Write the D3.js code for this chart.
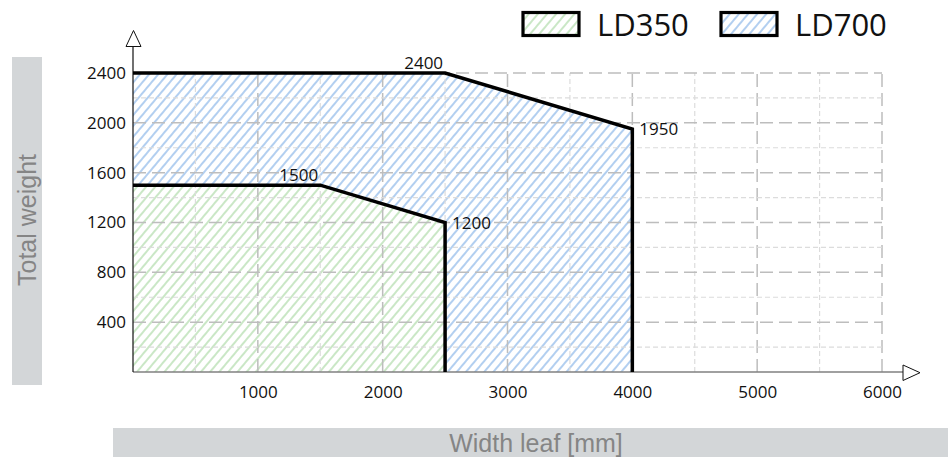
<!DOCTYPE html>
<html>
<head>
<meta charset="utf-8">
<script src="https://cdn.jsdelivr.net/npm/d3@7"></script>
<style>
  html, body { margin: 0; padding: 0; background: #fff; }
  svg { display: block; }
  .tick-label { font-family: "Open Sans", "Noto Sans", sans-serif; font-size: 17px; fill: #111; }
  .title { font-family: "Liberation Sans", Arial, sans-serif; font-size: 25px; fill: #858585; }
  .legend-text { font-family: "Open Sans", "Noto Sans", sans-serif; font-size: 31px; fill: #111; }
</style>
</head>
<body>
<script>
// Load capacity envelopes: leaf width [mm] vs total weight
const seriesNames = ["LD350", "LD700"];
const ld350Width  = [0, 1500, 2500, 2500];
const ld350Weight = [1500, 1500, 1200, 0];
const ld700Width  = [0, 2500, 4000, 4000];
const ld700Weight = [2400, 2400, 1950, 0];
const xTicks = [1000, 2000, 3000, 4000, 5000, 6000];
const yTicks = [400, 800, 1200, 1600, 2000, 2400];
// value callouts on the envelope corners
const ld350Labels = [{ w: 1500, v: 1500, pos: "above" }, { w: 2500, v: 1200, pos: "right" }];
const ld700Labels = [{ w: 2500, v: 2400, pos: "above" }, { w: 4000, v: 1950, pos: "right" }];

const W = 948, H = 457;
const svg = d3.select("body").append("svg").attr("width", W).attr("height", H);

const x = d3.scaleLinear().domain([0, 6000]).range([133, 882]);
const y = d3.scaleLinear().domain([0, 2400]).range([372, 73]);

// hatch patterns
const defs = svg.append("defs");
function hatch(id, color) {
  const s = 7;
  const p = defs.append("pattern")
    .attr("id", id).attr("patternUnits", "userSpaceOnUse")
    .attr("width", s).attr("height", s)
    .attr("patternTransform", "rotate(40)");
  p.append("rect").attr("width", s).attr("height", s).attr("fill", "#fff");
  p.append("line").attr("x1", 1).attr("y1", 0).attr("x2", 1).attr("y2", s)
    .attr("stroke", color).attr("stroke-width", 1.15);
}
hatch("hatch-ld700", "#7aace6");
hatch("hatch-ld350", "#a3d69c");

// axis title bands
svg.append("rect").attr("x", 12).attr("y", 57).attr("width", 30).attr("height", 328).attr("fill", "#d3d6d8");
svg.append("text").attr("class", "title")
  .attr("transform", "translate(36,220) rotate(-90)")
  .attr("text-anchor", "middle").text("Total weight");
svg.append("rect").attr("x", 113).attr("y", 428).attr("width", 835).attr("height", 29).attr("fill", "#d3d6d8");
svg.append("text").attr("class", "title")
  .attr("x", 536).attr("y", 452).attr("text-anchor", "middle").text("Width leaf [mm]");

// filled envelopes
function area(ws, vs) {
  const pts = [[0, 0]].concat(ws.map((w, i) => [w, vs[i]]));
  return d3.line().x(d => x(d[0])).y(d => y(d[1]))(pts) + "Z";
}
svg.append("path").attr("d", area(ld700Width, ld700Weight)).attr("fill", "url(#hatch-ld700)");
svg.append("path").attr("d", area(ld350Width, ld350Weight)).attr("fill", "url(#hatch-ld350)");

// grid
const g = svg.append("g");
d3.range(500, 6001, 500).forEach(v => {
  const major = v % 1000 === 0;
  g.append("line").attr("x1", x(v)).attr("x2", x(v)).attr("y1", y(0)).attr("y2", y(2400))
    .attr("stroke", major ? "#bdbdbd" : "#dcdcdc").attr("stroke-width", major ? 1.5 : 1.2)
    .attr("stroke-dasharray", major ? "13,6" : "5,3");
});
d3.range(200, 2401, 200).forEach(v => {
  const major = v % 400 === 0;
  g.append("line").attr("x1", x(0)).attr("x2", x(6000)).attr("y1", y(v)).attr("y2", y(v))
    .attr("stroke", major ? "#bdbdbd" : "#dcdcdc").attr("stroke-width", major ? 1.5 : 1.2)
    .attr("stroke-dasharray", major ? "13,6" : "5,3");
});

// axes
const fmt = d3.format("d");
const xAxis = d3.axisBottom(x).tickValues(xTicks).tickFormat(fmt).tickSize(0).tickPadding(14);
const xg = svg.append("g").attr("transform", `translate(0,${y(0)})`).call(xAxis);
xg.select(".domain").remove();
xg.selectAll("text").attr("class", "tick-label").attr("font-family", null).attr("font-size", null);

const yAxis = d3.axisLeft(y).tickValues(yTicks).tickFormat(fmt).tickSize(0).tickPadding(7);
const yg = svg.append("g").attr("transform", `translate(${x(0)},0)`).call(yAxis);
yg.select(".domain").remove();
yg.selectAll("text").attr("class", "tick-label").attr("font-family", null).attr("font-size", null);

svg.append("line").attr("x1", x(0)).attr("x2", 903).attr("y1", y(0)).attr("y2", y(0))
  .attr("stroke", "#808080").attr("stroke-width", 1.6);
svg.append("path").attr("d", "M903,365 L903,380.5 L920,372.7 Z")
  .attr("fill", "#fff").attr("stroke", "#111").attr("stroke-width", 1).attr("stroke-linejoin", "round");
svg.append("line").attr("x1", x(0)).attr("x2", x(0)).attr("y1", y(0)).attr("y2", 46)
  .attr("stroke", "#111").attr("stroke-width", 1.2);
svg.append("path").attr("d", "M126,46.5 L141,46.5 L133.5,30.5 Z")
  .attr("fill", "#fff").attr("stroke", "#111").attr("stroke-width", 1).attr("stroke-linejoin", "round");

// envelope outlines
function outline(ws, vs) {
  return d3.line().x(d => x(d[0])).y(d => y(d[1]))(ws.map((w, i) => [w, vs[i]]));
}
[[ld700Width, ld700Weight], [ld350Width, ld350Weight]].forEach(([ws, vs]) => {
  svg.append("path").attr("d", outline(ws, vs)).attr("fill", "none")
    .attr("stroke", "#000").attr("stroke-width", 3.5).attr("stroke-linejoin", "miter");
});

// value labels
ld350Labels.concat(ld700Labels).forEach(d => {
  const t = svg.append("text").attr("class", "tick-label").text(fmt(d.v));
  if (d.pos === "above") {
    t.attr("x", x(d.w) - 2).attr("y", y(d.v) - 4).attr("text-anchor", "end");
  } else {
    t.attr("x", x(d.w) + 7).attr("y", y(d.v) + 6).attr("text-anchor", "start");
  }
});

// legend
const legend = svg.append("g");
seriesNames.forEach((name, i) => {
  const lx = 523 + i * 198;
  legend.append("rect").attr("x", lx).attr("y", 12.5).attr("width", 56).attr("height", 23)
    .attr("fill", i === 0 ? "url(#hatch-ld350)" : "url(#hatch-ld700)")
    .attr("stroke", "#000").attr("stroke-width", 3.2);
  legend.append("text").attr("class", "legend-text").attr("x", lx + 74).attr("y", 36).text(name);
});
</script>
</body>
</html>
